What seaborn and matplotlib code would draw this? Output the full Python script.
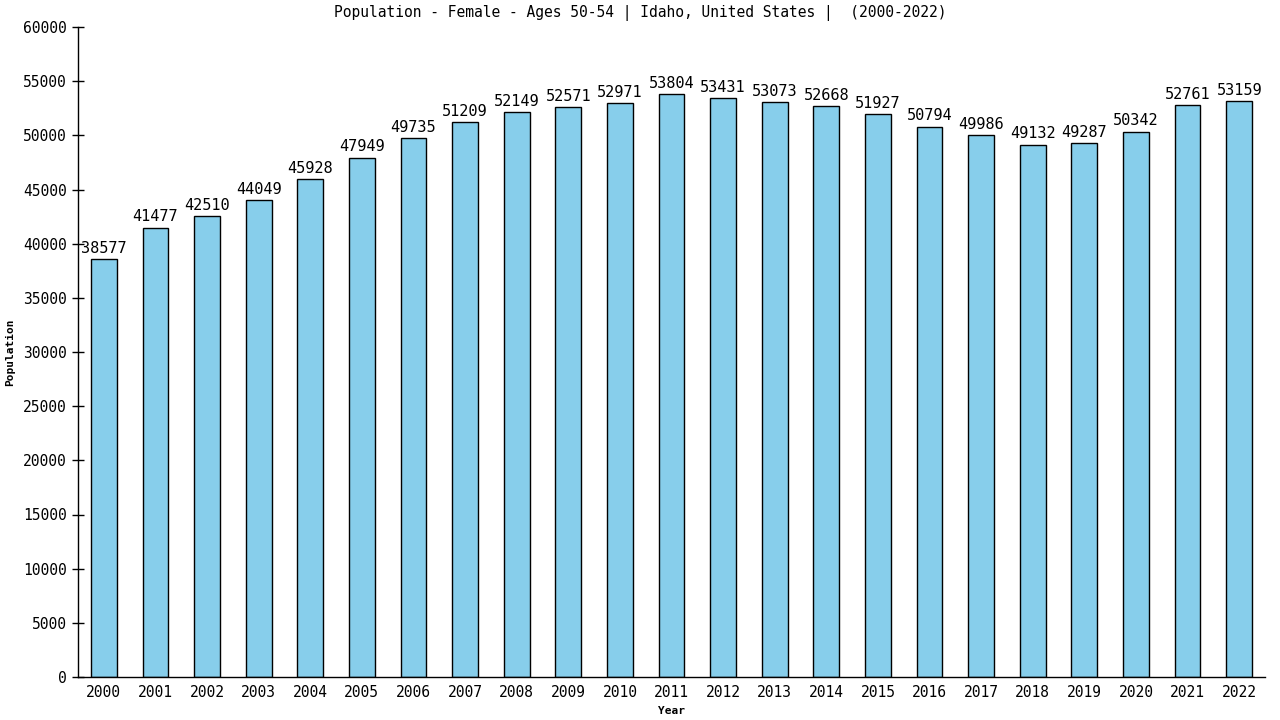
import pandas as pd
import seaborn as sns
import matplotlib.pyplot as plt

years = [str(y) for y in range(2000, 2023)]
population = [38577, 41477, 42510, 44049, 45928, 47949, 49735, 51209, 52149, 52571,
              52971, 53804, 53431, 53073, 52668, 51927, 50794, 49986, 49132, 49287,
              50342, 52761, 53159]
y_ticks = list(range(0, 60001, 5000))

df = pd.DataFrame({"Year": years, "Population": population})

sns.set_style("white")
plt.rcParams['font.family'] = ['DejaVu Sans Mono', 'DejaVu Sans']
plt.rcParams['text.color'] = 'black'
plt.rcParams['axes.labelcolor'] = 'black'
plt.rcParams['xtick.color'] = 'black'
plt.rcParams['ytick.color'] = 'black'
plt.rcParams['axes.edgecolor'] = 'black'

fig = plt.figure(figsize=(12.8, 7.2), dpi=100)
ax = fig.add_axes([78 / 1280, 1 - 677 / 720, (1265 - 78) / 1280, (677 - 27) / 720])

sns.barplot(data=df, x="Year", y="Population", color="#87ceeb", width=0.5,
            edgecolor="black", linewidth=1, saturation=1, ax=ax)

for i, v in enumerate(population):
    ax.text(i, v + 300, str(v), ha="center", va="bottom", fontsize=11, color="black")

ax.set_xlim(-0.5, len(years) - 0.5)
ax.set_ylim(0, 60000)
ax.set_yticks(y_ticks)
ax.set_yticklabels([str(t) for t in y_ticks], fontsize=10.5)
ax.tick_params(axis="x", labelsize=10.5, length=0, pad=6)
ax.tick_params(axis="y", direction="inout", length=8, width=1, left=True, pad=4)
ax.spines["top"].set_visible(False)
ax.spines["right"].set_visible(False)
ax.spines["left"].set_linewidth(1)
ax.spines["bottom"].set_linewidth(1)

ax.set_xlabel("Year", fontsize=8, fontweight="bold", labelpad=4)
ax.set_ylabel("Population", fontsize=8, fontweight="bold", labelpad=6)
fig.text(0.5, 1 - 13 / 720, "Population - Female - Ages 50-54 | Idaho, United States |  (2000-2022)",
         ha="center", va="center", fontsize=10.5, color="black")

fig.savefig("out.png", dpi=100)
